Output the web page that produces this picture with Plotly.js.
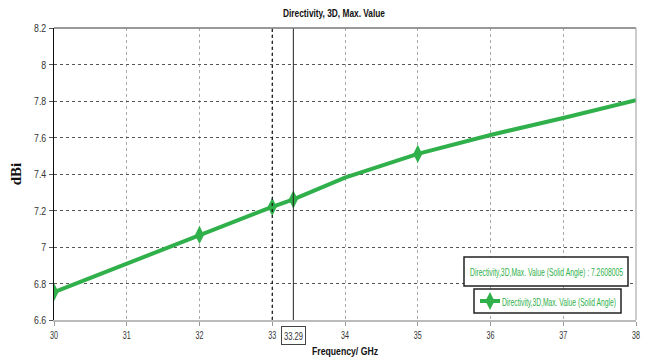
<!DOCTYPE html>
<html><head><meta charset="utf-8">
<script src="https://cdn.plot.ly/plotly-3.0.1.min.js"></script>
<style>html,body{margin:0;padding:0;background:#fff}#c{width:654px;height:362px}</style>
</head><body><div id="c"></div>
<script>
// Data
var freq = [30, 31, 32, 33, 33.29, 34, 35, 36, 37, 38];
var directivity = [6.753, 6.91, 7.066, 7.22, 7.2608, 7.38, 7.51, 7.614, 7.707, 7.805];
var markFreq = [30, 32, 33, 33.29, 35];
var markDir = [6.753, 7.066, 7.22, 7.2608, 7.51];
var cursorFreqs = [33, 33.29];
var cursorLabel = "33.29";
var seriesName = "Directivity,3D,Max. Value (Solid Angle)";
var readout = "Directivity,3D,Max. Value (Solid Angle) : 7.2608005";
var xTicks = [30, 31, 32, 33, 34, 35, 36, 37, 38];
var yTicks = [6.6, 6.8, 7, 7.2, 7.4, 7.6, 7.8, 8, 8.2];
var yTickText = ["6.6", "6.8", "7", "7.2", "7.4", "7.6", "7.8", "8", "8.2"];

var green = "#2fb04a";
var fnt = "'Liberation Sans', Arial, sans-serif";

var traces = [
  {x: freq, y: directivity, mode: "lines", line: {color: green, width: 4}, showlegend: false, hoverinfo: "skip"},
  {x: markFreq, y: markDir, mode: "markers", name: seriesName,
   marker: {symbol: "diamond-tall", size: 13, color: green}, showlegend: false},
  {x: [null], y: [null], mode: "lines+markers", name: seriesName,
   line: {color: green, width: 4}, marker: {symbol: "diamond-tall", size: 13, color: green}, showlegend: true}
];

var layout = {
  width: 654, height: 362,
  margin: {l: 54, r: 18, t: 28, b: 42, autoexpand: false},
  paper_bgcolor: "#fff", plot_bgcolor: "#fff",
  font: {family: fnt, size: 11.5, color: "#333"},
  title: {text: "<b>Directivity, 3D, Max. Value</b>", x: 334 / 654, xanchor: "center", y: 0.975, yanchor: "top",
          font: {family: fnt, size: 11.5, color: "#111"}},
  xaxis: {range: [30, 38], tickvals: xTicks, ticktext: xTicks.map(String), ticks: "outside", ticklen: 4,
          tickcolor: "#999", showline: true, linecolor: "#bbb", linewidth: 1.5, mirror: false, automargin: false,
          showgrid: true, gridcolor: "#aaa", griddash: "dot", gridwidth: 1, zeroline: false,
          tickfont: {family: fnt, size: 11.5, color: "#333"},
          title: {text: "<b>Frequency/ GHz</b>", standoff: 6, font: {family: fnt, size: 11.5, color: "#111"}}},
  yaxis: {range: [6.6, 8.2], tickvals: yTicks, ticktext: yTickText, ticks: "outside", ticklen: 4,
          tickcolor: "#555", showline: true, linecolor: "#111", linewidth: 1.5, mirror: false, automargin: false,
          showgrid: true, gridcolor: "#555", griddash: "dot", gridwidth: 1, zeroline: false,
          tickfont: {family: fnt, size: 11.5, color: "#333"},
          title: {text: "<b>dBi</b>", standoff: 5, font: {family: "'Liberation Serif', 'DejaVu Serif', serif", size: 15, color: "#111"}}},
  showlegend: true,
  legend: {x: (470 - 54) / 582, xanchor: "left", y: (320 - 301) / 292, yanchor: "middle", bgcolor: "rgba(0,0,0,0)",
           borderwidth: 0, font: {family: fnt, size: 11.5, color: green}, itemwidth: 30},
  shapes: [
    {type: "line", xref: "x", yref: "paper", x0: cursorFreqs[0], x1: cursorFreqs[0], y0: 0, y1: 1,
     line: {color: "#111", width: 1.2, dash: "dot"}},
    {type: "line", xref: "x", yref: "paper", x0: cursorFreqs[1], x1: cursorFreqs[1], y0: 0, y1: 1,
     line: {color: "#222", width: 1}},
    {type: "line", xref: "paper", yref: "paper", x0: 0, x1: 1, y0: 1, y1: 1, line: {color: "#777", width: 1.5}},
    {type: "line", xref: "paper", yref: "paper", x0: 1, x1: 1, y0: 0, y1: 1, line: {color: "#aaa", width: 1.2}},
    // readout box
    {type: "rect", xref: "paper", yref: "paper", x0: (464 - 54) / 582, x1: (628 - 54) / 582,
     y0: (320 - 286) / 292, y1: (320 - 257) / 292, line: {color: "#222", width: 1.5}, fillcolor: "#fff", layer: "above"},
    // legend box
    {type: "rect", xref: "paper", yref: "paper", x0: (474 - 54) / 582, x1: (621 - 54) / 582,
     y0: (320 - 313) / 292, y1: (320 - 289) / 292, line: {color: "#222", width: 1.5}, fillcolor: "#fff", layer: "above"}
  ],
  annotations: [
    {xref: "x", yref: "paper", x: cursorFreqs[1], y: 0, yshift: -6, yanchor: "top", text: cursorLabel, showarrow: false,
     width: 20, height: 14, bordercolor: "#444", borderwidth: 1, borderpad: 1.5, bgcolor: "#fff",
     font: {family: fnt, size: 11.5, color: "#333"}},
    {xref: "paper", yref: "paper", x: (546 - 54) / 582, y: (320 - 271.5) / 292, xanchor: "center", yanchor: "middle",
     text: readout, showarrow: false, font: {family: fnt, size: 11.5, color: green}}
  ]
};

var targets = {};
targets["Directivity, 3D, Max. Value"] = 102;
targets["Frequency/ GHz"] = 66;
targets[seriesName] = 114;
targets[readout] = 153;
targets[cursorLabel] = 19;

Plotly.newPlot("c", traces, layout, {displayModeBar: false, staticPlot: true}).then(function (gd) {
  function condense(sel, factor) {
    gd.querySelectorAll(sel).forEach(function (t) {
      var s = t.textContent;
      if (!s || s === "dBi") return;
      var len = t.getComputedTextLength();
      if (!len) return;
      var target = targets[s] !== undefined ? targets[s] : len * factor;
      t.setAttribute("textLength", target);
      t.setAttribute("lengthAdjust", "spacingAndGlyphs");
    });
  }
  condense(".xtick text", 0.62);
  condense(".ytick text", 0.76);
  condense(".gtitle, .g-xtitle text, .legend text, .annotation text", 0.66);
  // shorten legend glyph line and tighten text gap
  var lp = gd.querySelector(".legend .legendlines path");
  if (lp) lp.setAttribute("d", "M10,0h20");
  var lt = gd.querySelector(".legend .legendtext");
  if (lt) lt.setAttribute("x", 32);
});
</script></body></html>
